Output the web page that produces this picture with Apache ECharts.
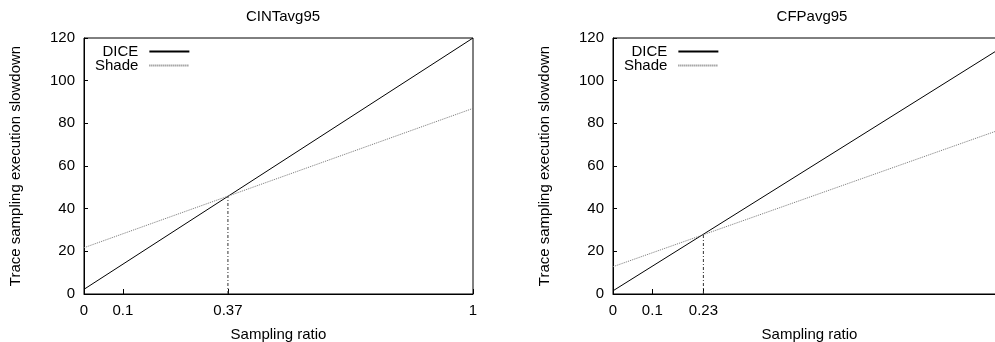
<!DOCTYPE html>
<html>
<head>
<meta charset="utf-8">
<script src="https://cdn.jsdelivr.net/npm/echarts@6/dist/echarts.min.js"></script>
<style>html,body{margin:0;padding:0;background:#fff}#c{width:995px;height:342px}</style>
</head>
<body>
<div id="c"></div>
<script>
// ---- data ----
const titles = ['CINTavg95', 'CFPavg95'];
const seriesNames = ['DICE', 'Shade'];
const xEnds = [0, 1];
const cintDice = [2.2, 120];
const cintShade = [21.7, 87];
const cfpDice = [1.5, 116.8];
const cfpShade = [12.8, 78];
const cintCross = [0.37, 45.9];
const cfpCross = [0.23, 28];
const cintXTicks = [0, 0.1, 0.37, 1];
const cfpXTicks = [0, 0.1, 0.23, 1];
const yMin = 0, yMax = 120, yStep = 20;
const xLabel = 'Sampling ratio';
const yLabel = 'Trace sampling execution slowdown';

const FONT = "Liberation Sans";
const FS = 15;

function pts(xs, ys) { return xs.map((x, i) => [x, ys[i]]); }

const grids = [
  { left: 84, top: 38, width: 389, height: 256 },
  { left: 613, top: 38, width: 393, height: 256 }
];
const xTicks = [cintXTicks, cfpXTicks];
const panels = [
  { dice: cintDice, shade: cintShade, cross: cintCross },
  { dice: cfpDice, shade: cfpShade, cross: cfpCross }
];

const legendBase = {
  data: seriesNames, orient: 'vertical', align: 'right', itemWidth: 40, itemHeight: 12, itemGap: -1,
  itemStyle: { opacity: 0 },
  textStyle: { fontFamily: FONT, fontSize: FS, color: '#000', lineHeight: 13, padding: [0, 6, 0, 0] },
  selectedMode: false, padding: 0
};

const option = {
  animation: false,
  backgroundColor: '#fff',
  textStyle: { fontFamily: FONT },
  title: [
    { text: titles[0], left: 278, top: 4, textAlign: 'center', textStyle: { fontFamily: FONT, fontSize: FS, fontWeight: 'normal', color: '#000' } },
    { text: titles[1], left: 807, top: 4, textAlign: 'center', textStyle: { fontFamily: FONT, fontSize: FS, fontWeight: 'normal', color: '#000' } }
  ],
  legend: [
    Object.assign({}, legendBase, { left: 95, top: 44 }),
    Object.assign({}, legendBase, { left: 624, top: 44 })
  ],
  grid: grids.map(g => Object.assign({ show: true, borderColor: '#000', borderWidth: 1, backgroundColor: 'transparent', containLabel: false, outerBoundsMode: 'none' }, g)),
  xAxis: [0, 1].map(i => ({
    type: 'value', gridIndex: i, min: 0, max: 1,
    name: xLabel, nameLocation: 'middle', nameGap: 33,
    nameTextStyle: { fontFamily: FONT, fontSize: FS, color: '#000' },
    axisLine: { show: true, lineStyle: { color: '#000', width: 1 } },
    axisTick: { show: true, inside: true, length: 5, customValues: xTicks[i], lineStyle: { color: '#000' } },
    axisLabel: { show: true, customValues: xTicks[i], margin: 9, fontFamily: FONT, fontSize: FS, color: '#000' },
    splitLine: { show: false }
  })),
  yAxis: [0, 1].map(i => ({
    type: 'value', gridIndex: i, min: yMin, max: yMax, interval: yStep,
    name: yLabel, nameLocation: 'middle', nameGap: 61,
    nameTextStyle: { fontFamily: FONT, fontSize: FS, color: '#000' },
    axisLine: { show: true, lineStyle: { color: '#000', width: 1 } },
    axisTick: { show: true, inside: true, length: 4, lineStyle: { color: '#000' } },
    axisLabel: { show: true, margin: 9, fontFamily: FONT, fontSize: FS, color: '#000' },
    splitLine: { show: false }
  })),
  series: []
};

panels.forEach((p, i) => {
  option.series.push({
    name: seriesNames[0], type: 'line', xAxisIndex: i, yAxisIndex: i,
    data: pts(xEnds, p.dice), showSymbol: false, symbol: 'none', silent: true,
    lineStyle: { color: '#000', width: 1, type: 'solid' }, itemStyle: { color: '#000' }
  });
  option.series.push({
    name: seriesNames[1], type: 'line', xAxisIndex: i, yAxisIndex: i,
    data: pts(xEnds, p.shade), showSymbol: false, symbol: 'none', silent: true,
    lineStyle: { color: '#777', width: 1, type: [1, 1] }, itemStyle: { color: '#777' }
  });
  option.series.push({
    name: 'cross' + i, type: 'line', xAxisIndex: i, yAxisIndex: i,
    data: [[p.cross[0], yMin], [p.cross[0], p.cross[1]]], showSymbol: false, symbol: 'none', silent: true,
    lineStyle: { color: '#333', width: 1, type: [3, 2, 1, 2] }
  });
});

const chart = echarts.init(document.getElementById('c'), null, { renderer: 'canvas' });
chart.setOption(option);
</script>
</body>
</html>
